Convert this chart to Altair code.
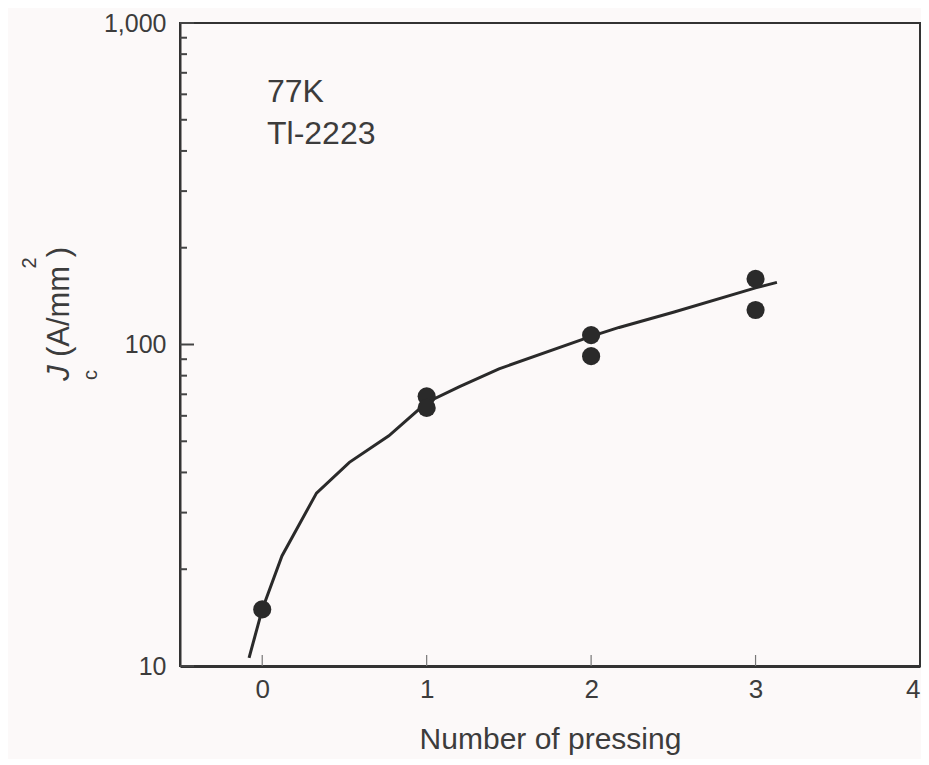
import altair as alt
import pandas as pd

# measured data points
press_pts = [0, 1, 1, 2, 2, 3, 3]
jc_pts = [15, 69, 63.5, 107, 92, 160, 128]

# fitted curve
curve_x = [-0.08, 0, 0.12, 0.33, 0.53, 0.77, 1.0, 1.2, 1.44, 2.0, 2.17, 2.5, 3.0, 3.13]
curve_y = [10.6, 15, 22, 34.5, 43, 52, 66, 74, 84, 106, 113, 126, 150, 156]

x_ticks = [0, 1, 2, 3, 4]
y_major = [10, 100, 1000]
y_minor = [20, 30, 40, 50, 60, 70, 80, 90, 200, 300, 400, 500, 600, 700, 800, 900]

W, H = 740, 643
FONT = "Liberation Sans"
TXT = "#3c3c3c"
INK = "#2a2a2a"

pts = pd.DataFrame({"x": press_pts, "y": jc_pts})
crv = pd.DataFrame({"x": curve_x, "y": curve_y})
ymaj = pd.DataFrame({"y": y_major})
ymin = pd.DataFrame({"y": y_minor})
xt = pd.DataFrame({"x": x_ticks[:-1]})

xs = alt.Scale(domain=[-0.5, 4], nice=False, zero=False)
ys = alt.Scale(type="log", domain=[10, 1000], nice=False)

line = alt.Chart(crv).mark_line(color=INK, strokeWidth=3).encode(
    x=alt.X("x:Q", scale=xs,
            axis=alt.Axis(values=x_ticks, format="d", ticks=False, grid=False,
                          title="Number of pressing",
                          labelFontSize=26, labelPadding=10, labelColor=TXT, labelFont=FONT,
                          titleFontSize=30, titleFont=FONT, titleFontWeight="normal",
                          titleColor=TXT, titlePadding=22, domainColor="#333", domainWidth=3)),
    y=alt.Y("y:Q", scale=ys,
            axis=alt.Axis(values=y_major, format=",d", ticks=False, grid=False, title=None,
                          labelFontSize=25, labelPadding=14, labelColor=TXT, labelFont=FONT,
                          domainColor="#333", domainWidth=2)),
)

dots = alt.Chart(pts).mark_circle(color=INK, size=330, opacity=1).encode(
    x=alt.X("x:Q", scale=xs), y=alt.Y("y:Q", scale=ys))

maj_ticks = alt.Chart(ymaj).mark_rule(color="#444", strokeWidth=2).encode(
    y=alt.Y("y:Q", scale=ys), x=alt.value(0), x2=alt.value(14))
min_ticks = alt.Chart(ymin).mark_rule(color="#444", strokeWidth=2).encode(
    y=alt.Y("y:Q", scale=ys), x=alt.value(0), x2=alt.value(7))
x_tick_marks = alt.Chart(xt).mark_rule(color="#777", strokeWidth=1.2).encode(
    x=alt.X("x:Q", scale=xs), y=alt.value(H), y2=alt.value(H - 11))

ann = pd.DataFrame({"t": ["77K", "Tl-2223"], "yy": [79, 121]})
ann_txt = alt.Chart(ann).mark_text(align="left", baseline="alphabetic", fontSize=32,
                                   font=FONT, color=TXT).encode(
    text="t:N", x=alt.value(87), y=alt.Y("yy:Q", scale=None))

def rtext(t, x, y, size, style="normal"):
    return alt.Chart(pd.DataFrame({"t": [t]})).mark_text(
        angle=270, align="center", baseline="middle", fontSize=size, font=FONT,
        fontStyle=style, color=TXT).encode(text="t:N", x=alt.value(x), y=alt.value(y))

ytitle = (rtext("J", -120, 350, 31, "italic")
          + rtext("c", -89, 352, 20)
          + rtext("(A/mm )", -120, 279, 31)
          + rtext("2", -150, 240, 20))

chart = alt.layer(line, dots, maj_ticks, min_ticks, x_tick_marks, ann_txt, ytitle).properties(
    width=W, height=H,
    autosize=alt.AutoSizeParams(type="none"),
    padding={"left": 172, "top": 15, "right": 1, "bottom": 93},
    background="#fcf9f9",
).configure_view(stroke="#333", strokeWidth=2)

chart.save("out.html", embed_options={"renderer": "svg", "actions": False})
